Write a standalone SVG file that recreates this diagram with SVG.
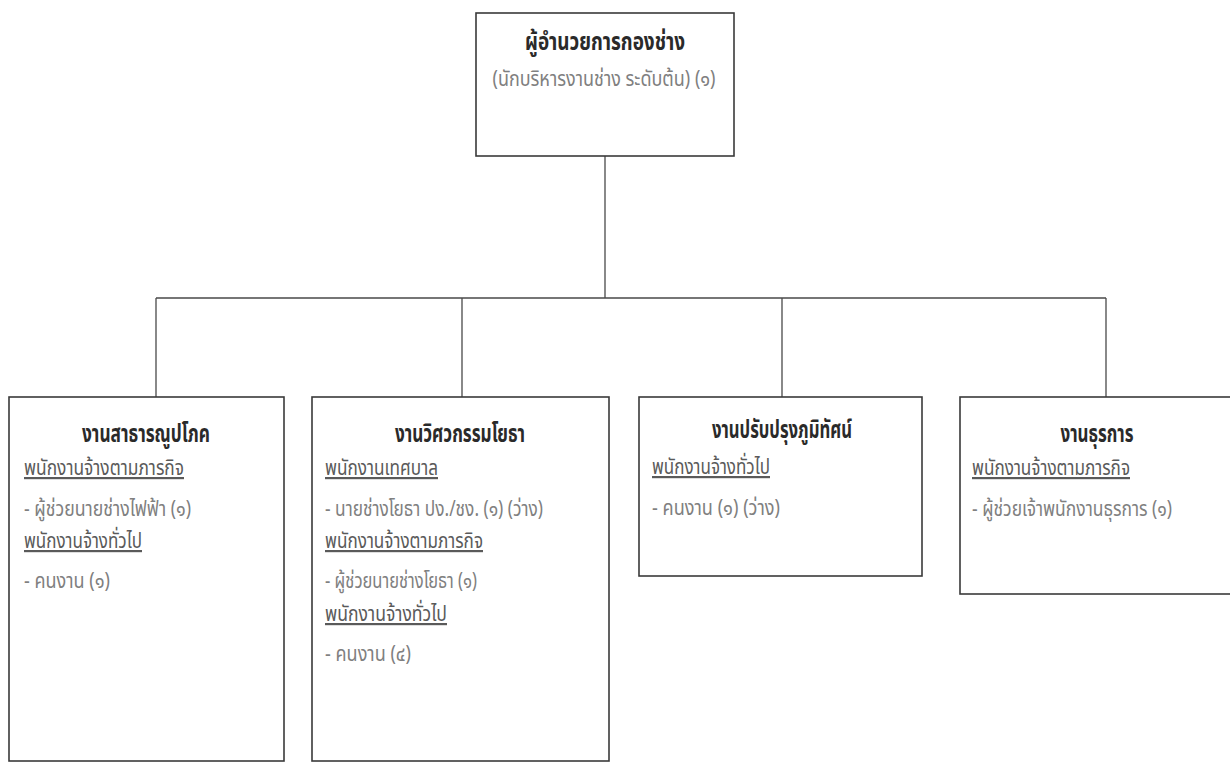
<svg xmlns="http://www.w3.org/2000/svg" width="1230" height="762" viewBox="0 0 1230 762">
<style>
.box{fill:#fff;stroke:#3a3a3a;stroke-width:1.6}
.conn{stroke:#4a4a4a;stroke-width:1.3;fill:none}
text{font-family:"Noto Sans Thai","Noto Sans","DejaVu Sans",sans-serif;font-size:22px}
.t{fill:#2a2a2a;font-weight:bold;font-size:24px}
.h{fill:#5a5a5a;text-decoration:underline}
.b{fill:#808080}
.c{text-anchor:middle}
</style>
<rect width="1230" height="762" fill="#fff"/>
<g id="connectors">
<path class="conn" d="M605 156V298M156 298H1106M156 298V397M462 298V397M782 298V397M1106 298V397"/>
</g>
<g id="node-director">
<rect class="box" x="476" y="13" width="258" height="143"/>
<text class="t c" x="605" y="50" textLength="160" lengthAdjust="spacingAndGlyphs">ผู้อำนวยการกองช่าง</text>
<text class="b c" x="604" y="86" textLength="223" lengthAdjust="spacingAndGlyphs">(นักบริหารงานช่าง ระดับต้น) (๑)</text>
</g>
<g id="node-utilities">
<rect class="box" x="9" y="397" width="275" height="364"/>
<text class="t c" x="146" y="442" textLength="128" lengthAdjust="spacingAndGlyphs">งานสาธารณูปโภค</text>
<text class="h" x="24" y="475" textLength="160" lengthAdjust="spacingAndGlyphs">พนักงานจ้างตามภารกิจ</text>
<text class="b" x="24" y="516" textLength="167" lengthAdjust="spacingAndGlyphs">- ผู้ช่วยนายช่างไฟฟ้า (๑)</text>
<text class="h" x="24" y="548" textLength="118" lengthAdjust="spacingAndGlyphs">พนักงานจ้างทั่วไป</text>
<text class="b" x="24" y="588" textLength="86" lengthAdjust="spacingAndGlyphs">- คนงาน (๑)</text>
</g>
<g id="node-civil">
<rect class="box" x="312" y="397" width="297" height="364"/>
<text class="t c" x="460" y="442" textLength="130" lengthAdjust="spacingAndGlyphs">งานวิศวกรรมโยธา</text>
<text class="h" x="325" y="475" textLength="113" lengthAdjust="spacingAndGlyphs">พนักงานเทศบาล</text>
<text class="b" x="325" y="516" textLength="218" lengthAdjust="spacingAndGlyphs">- นายช่างโยธา ปง./ชง. (๑) (ว่าง)</text>
<text class="h" x="325" y="548" textLength="158" lengthAdjust="spacingAndGlyphs">พนักงานจ้างตามภารกิจ</text>
<text class="b" x="325" y="588" textLength="152" lengthAdjust="spacingAndGlyphs">- ผู้ช่วยนายช่างโยธา (๑)</text>
<text class="h" x="325" y="621" textLength="122" lengthAdjust="spacingAndGlyphs">พนักงานจ้างทั่วไป</text>
<text class="b" x="325" y="661" textLength="86" lengthAdjust="spacingAndGlyphs">- คนงาน (๔)</text>
</g>
<g id="node-landscape">
<rect class="box" x="639" y="397" width="283" height="179"/>
<text class="t c" x="782" y="438" textLength="140" lengthAdjust="spacingAndGlyphs">งานปรับปรุงภูมิทัศน์</text>
<text class="h" x="652" y="474" textLength="118" lengthAdjust="spacingAndGlyphs">พนักงานจ้างทั่วไป</text>
<text class="b" x="652" y="515" textLength="128" lengthAdjust="spacingAndGlyphs">- คนงาน (๑) (ว่าง)</text>
</g>
<g id="node-admin">
<rect class="box" x="960" y="397" width="275" height="197"/>
<text class="t c" x="1097" y="442" textLength="73" lengthAdjust="spacingAndGlyphs">งานธุรการ</text>
<text class="h" x="972" y="475" textLength="158" lengthAdjust="spacingAndGlyphs">พนักงานจ้างตามภารกิจ</text>
<text class="b" x="972" y="516" textLength="200" lengthAdjust="spacingAndGlyphs">- ผู้ช่วยเจ้าพนักงานธุรการ (๑)</text>
</g>
</svg>
